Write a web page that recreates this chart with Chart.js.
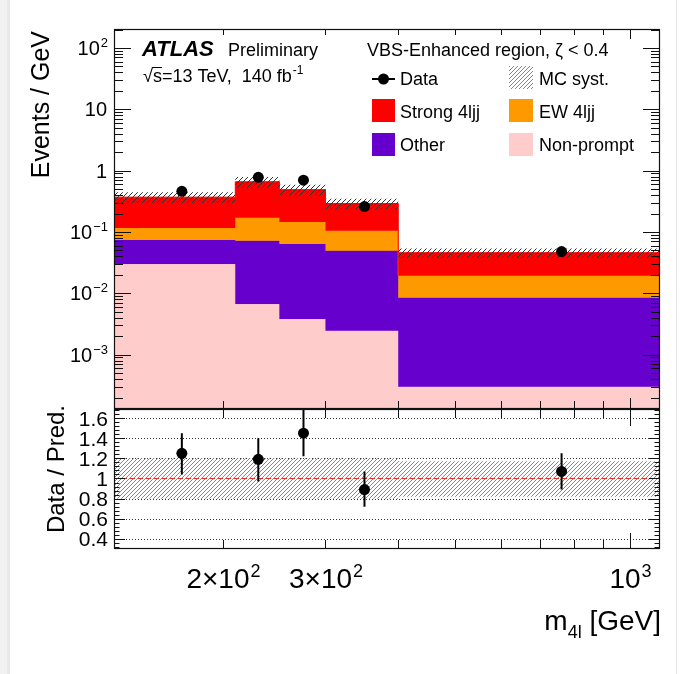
<!DOCTYPE html>
<html>
<head>
<meta charset="utf-8">
<title>VBS-Enhanced region - m4l</title>
<script src="https://cdn.jsdelivr.net/npm/chart.js@4.4.0/dist/chart.umd.min.js"></script>
<style>
body { margin: 0; background: #fff; }
.wrap { position: relative; width: 689px; height: 674px; overflow: hidden; }
.wrap canvas { position: absolute; left: 0; top: 0; }
.edgeL { position: absolute; left: 0; top: 0; width: 7px; height: 674px; background: #f2f2f2; border-right: 3px solid #e8e8e8; }
.edgeR { position: absolute; left: 676px; top: 0; width: 1px; height: 674px; background: #e4e4e4; }
</style>
</head>
<body>
<div class="wrap">
  <div class="edgeL"></div>
  <div class="edgeR"></div>
  <canvas id="main-chart" width="689" height="674"></canvas>
  <canvas id="ratio-chart" width="689" height="674"></canvas>
</div>
<script>
// bins in m4l [GeV]
const binEdges = [130, 210, 250, 300, 400, 1126];
const binCenters = [170, 230, 275, 350, 763];

// events / GeV per process
const nonPrompt = [0.030, 0.0067, 0.0038, 0.00245, 0.00030];
const other = [0.044, 0.065, 0.060, 0.047, 0.0082];
const ew4ljj = [0.042, 0.099, 0.082, 0.055, 0.0109];
const strong4ljj = [0.254, 0.489, 0.344, 0.186, 0.0266];
const dataVals = [0.46, 0.78, 0.70, 0.26, 0.048];

// ratio panel
const ratioVals = [1.25, 1.19, 1.45, 0.89, 1.07];
const ratioErrLo = [0.21, 0.22, 0.23, 0.17, 0.18];
const ratioErrHi = [0.20, 0.21, 0.23, 0.18, 0.18];
const systLo = [0.80, 0.80, 0.80, 0.80, 0.82];
const systHi = [1.20, 1.20, 1.20, 1.20, 1.17];

// axes
const yRange = [1.3e-4, 204];
const rRange = [0.3, 1.69];
const yTickValues = [1e-3, 1e-2, 1e-1, 1, 10, 100];
const yTickLabels = ['10^\u22123', '10^\u22122', '10^\u22121', '1', '10', '10^2'];
const xTickValues = [200, 300, 1000];
const xTickLabels = ['2\u00d710^2', '3\u00d710^2', '10^3'];
const rTickValues = [0.4, 0.6, 0.8, 1, 1.2, 1.4, 1.6];
const rTickLabels = ['0.4', '0.6', '0.8', '1', '1.2', '1.4', '1.6'];

const FONT = '"Liberation Sans", Arial, Helvetica, sans-serif';
const colors = { strong: '#ff0000', ew: '#ff9900', other: '#6600cc', np: '#ffcccc' };

function addUp(a, b) { return a.map((v, i) => v + b[i]); }
function steps(vals) { return binEdges.map((x, i) => ({ x: x, y: vals[Math.min(i, vals.length - 1)] })); }

function hatch(color, gap, lw) {
    var c = document.createElement('canvas');
    c.width = gap; c.height = gap;
    var g = c.getContext('2d');
    g.strokeStyle = color; g.lineWidth = lw;
    g.beginPath();
    g.moveTo(0, gap); g.lineTo(gap, 0);
    g.moveTo(-1, 1); g.lineTo(1, -1);
    g.moveTo(gap - 1, gap + 1); g.lineTo(gap + 1, gap - 1);
    g.stroke();
    return g.createPattern(c, 'repeat');
}

const topNP = nonPrompt;
const topOther = addUp(topNP, other);
const topEW = addUp(topOther, ew4ljj);
const topStrong = addUp(topEW, strong4ljj);

const hatchMain = hatch('#333', 5, 1);
const hatchRatio = hatch('#888', 4, 1);

// text with "a^b" superscript
function drawSup(ctx, text, x, y, size, align) {
    var parts = text.split('^');
    ctx.font = size + 'px ' + FONT;
    var wb = ctx.measureText(parts[0]).width;
    var we = 0, es = Math.round(size * 0.64);
    if (parts[1]) { ctx.font = es + 'px ' + FONT; we = ctx.measureText(parts[1]).width; }
    var w = wb + we;
    var x0 = align === 'right' ? x - w : (align === 'center' ? x - w / 2 : x);
    ctx.textAlign = 'left';
    ctx.font = size + 'px ' + FONT;
    ctx.fillText(parts[0], x0, y);
    if (parts[1]) {
        ctx.font = es + 'px ' + FONT;
        ctx.fillText(parts[1], x0 + wb + 1, y - size * 0.4);
    }
}

function line(ctx, x1, y1, x2, y2) {
    ctx.beginPath(); ctx.moveTo(x1, y1); ctx.lineTo(x2, y2); ctx.stroke();
}

function frame(ctx, a) {
    ctx.strokeStyle = '#111'; ctx.lineWidth = 1.2; ctx.setLineDash([]);
    ctx.strokeRect(a.left + 0.5, a.top + 0.5, a.right - a.left - 1, a.bottom - a.top - 1);
}

function xTicks(ctx, chart, botMinor, botMajor, topMinor, topMajor) {
    var a = chart.chartArea, sx = chart.scales.x;
    ctx.lineWidth = 1; ctx.strokeStyle = '#111';
    for (var v = 200; v <= 1000; v += 100) {
        var px = Math.round(sx.getPixelForValue(v)) + 0.5;
        var big = v === 1000;
        line(ctx, px, a.bottom, px, a.bottom - (big ? botMajor : botMinor));
        line(ctx, px, a.top, px, a.top + (big ? topMajor : topMinor));
    }
}

const mainDecor = {
    id: 'mainDecor',
    afterDraw(chart) {
        var ctx = chart.ctx, a = chart.chartArea, sy = chart.scales.y;
        ctx.save();
        ctx.fillStyle = '#000';
        // y ticks
        ctx.lineWidth = 1; ctx.strokeStyle = '#111';
        for (var d = -4; d <= 2; d++) {
            for (var k = 1; k <= 9; k++) {
                var v = k * Math.pow(10, d);
                if (v < yRange[0] || v > yRange[1]) continue;
                var py = Math.round(sy.getPixelForValue(v)) + 0.5;
                var len = k === 1 ? 17 : 9;
                line(ctx, a.left, py, a.left + len, py);
                line(ctx, a.right, py, a.right - len, py);
            }
        }
        xTicks(ctx, chart, 8, 11, 6, 10);
        frame(ctx, a);
        // y labels
        ctx.textBaseline = 'alphabetic';
        yTickValues.forEach((v, i) => {
            drawSup(ctx, yTickLabels[i], 107, sy.getPixelForValue(v) + 7, 20, 'right');
        });
        // y title
        ctx.save();
        ctx.translate(49, 31); ctx.rotate(-Math.PI / 2);
        ctx.font = '25px ' + FONT; ctx.textAlign = 'right';
        ctx.fillText('Events / GeV', 0, 0);
        ctx.restore();
        // ATLAS label
        ctx.textAlign = 'left';
        ctx.font = 'italic bold 22px ' + FONT;
        ctx.fillText('ATLAS', 142, 56);
        ctx.font = '18px ' + FONT;
        ctx.fillText('Preliminary', 228, 56);
        var x = 143;
        ctx.fillText('\u221a', x, 82);
        x += ctx.measureText('\u221a').width;
        var ws = ctx.measureText('s').width;
        ctx.fillText('s=13 TeV,  140 fb', x, 82);
        ctx.lineWidth = 1; ctx.strokeStyle = '#000';
        line(ctx, x - 1, 67.5, x + ws, 67.5);
        x += ctx.measureText('s=13 TeV,  140 fb').width;
        ctx.font = '12px ' + FONT;
        ctx.fillText('-1', x + 1, 74);
        ctx.font = '18px ' + FONT;
        ctx.fillText('VBS-Enhanced region, \u03b6 < 0.4', 367, 56);
        // legend
        ctx.lineWidth = 2; ctx.strokeStyle = '#000';
        line(ctx, 372, 79, 395, 79);
        ctx.beginPath(); ctx.arc(383.5, 79, 5.5, 0, 2 * Math.PI); ctx.fill();
        ctx.fillText('Data', 400, 85);
        ctx.fillStyle = hatch('#888', 4, 1);
        ctx.fillRect(509, 66, 24, 23);
        ctx.fillStyle = colors.strong; ctx.fillRect(372, 99, 23, 23);
        ctx.fillStyle = colors.ew; ctx.fillRect(509, 99, 24, 23);
        ctx.fillStyle = colors.other; ctx.fillRect(372, 133, 23, 23);
        ctx.fillStyle = colors.np; ctx.fillRect(509, 133, 24, 23);
        ctx.fillStyle = '#000';
        ctx.fillText('MC syst.', 539, 85);
        ctx.fillText('Strong 4ljj', 400, 118);
        ctx.fillText('EW 4ljj', 539, 118);
        ctx.fillText('Other', 400, 151);
        ctx.fillText('Non-prompt', 539, 151);
        ctx.restore();
    }
};

const ratioDecor = {
    id: 'ratioDecor',
    beforeDatasetsDraw(chart) {
        var ctx = chart.ctx, a = chart.chartArea, sy = chart.scales.y;
        ctx.save();
        ctx.strokeStyle = '#333'; ctx.lineWidth = 1; ctx.setLineDash([1, 2]);
        rTickValues.forEach(v => {
            if (v === 1) return;
            var py = Math.round(sy.getPixelForValue(v)) + 0.5;
            line(ctx, a.left, py, a.right, py);
        });
        ctx.restore();
    },
    afterDraw(chart) {
        var ctx = chart.ctx, a = chart.chartArea, sx = chart.scales.x, sy = chart.scales.y;
        ctx.save();
        ctx.fillStyle = '#000'; ctx.strokeStyle = '#111'; ctx.lineWidth = 1;
        for (var i = 0; i <= 35; i++) {
            var v = 0.32 + i * 0.04;
            if (v > rRange[1]) break;
            var big = Math.abs((v * 100) % 20) < 0.5 || Math.abs((v * 100) % 20 - 20) < 0.5;
            var py = Math.round(sy.getPixelForValue(v)) + 0.5;
            var len = big ? 11 : 5.5;
            line(ctx, a.left, py, a.left + len, py);
            line(ctx, a.right, py, a.right - len, py);
        }
        xTicks(ctx, chart, 9, 16, 9, 17);
        frame(ctx, a);
        rTickValues.forEach((v, i) => {
            drawSup(ctx, rTickLabels[i], 108, sy.getPixelForValue(v) + 7.5, 21, 'right');
        });
        xTickValues.forEach((v, i) => {
            drawSup(ctx, xTickLabels[i], sx.getPixelForValue(v), 588, 28, 'center');
        });
        // y title
        ctx.save();
        ctx.translate(64, 405); ctx.rotate(-Math.PI / 2);
        ctx.font = '24px ' + FONT; ctx.textAlign = 'right';
        ctx.fillText('Data / Pred.', 0, 0);
        ctx.restore();
        // x title m_4l [GeV]
        ctx.textAlign = 'left';
        ctx.font = '28px ' + FONT;
        var wm = ctx.measureText('m').width, wg = ctx.measureText(' [GeV]').width;
        ctx.font = '18px ' + FONT;
        var w4 = ctx.measureText('4l').width;
        var x0 = 661 - wm - w4 - wg;
        ctx.font = '28px ' + FONT;
        ctx.fillText('m', x0, 630);
        ctx.fillText(' [GeV]', x0 + wm + w4, 630);
        ctx.font = '18px ' + FONT;
        ctx.fillText('4l', x0 + wm, 638);
        ctx.restore();
    }
};

const noBox = 'rgba(0,0,0,0)';

new Chart(document.getElementById('main-chart'), {
    type: 'line',
    data: {
        datasets: [
            { label: 'Data', data: binCenters.map((x, i) => ({ x: x, y: dataVals[i] })), showLine: false,
              pointRadius: 5.5, pointBackgroundColor: '#000', pointBorderWidth: 0 },
            { label: 'MC syst.', data: steps(topStrong.map((v, i) => v * systHi[i])), stepped: 'before',
              borderColor: noBox, borderWidth: 0, pointRadius: 0, fill: 2, backgroundColor: hatchMain },
            { label: 'syst lo', data: steps(topStrong.map((v, i) => v * systLo[i])), stepped: 'before',
              borderColor: noBox, borderWidth: 0, pointRadius: 0, fill: false },
            { label: 'Strong 4ljj', data: steps(topStrong), stepped: 'before', pointRadius: 0,
              borderColor: colors.strong, borderWidth: 1, fill: 4, backgroundColor: colors.strong },
            { label: 'EW 4ljj', data: steps(topEW), stepped: 'before', pointRadius: 0,
              borderColor: colors.ew, borderWidth: 1, fill: 5, backgroundColor: colors.ew },
            { label: 'Other', data: steps(topOther), stepped: 'before', pointRadius: 0,
              borderColor: colors.other, borderWidth: 1, fill: 6, backgroundColor: colors.other },
            { label: 'Non-prompt', data: steps(topNP), stepped: 'before', pointRadius: 0,
              borderColor: '#f4b8d8', borderWidth: 1, fill: 'start', backgroundColor: colors.np }
        ]
    },
    options: {
        responsive: false, animation: false, events: [],
        layout: { padding: { left: 114, right: 29, top: 29, bottom: 265 } },
        scales: {
            x: { type: 'logarithmic', min: binEdges[0], max: binEdges[binEdges.length - 1], display: false },
            y: { type: 'logarithmic', min: yRange[0], max: yRange[1], display: false }
        },
        plugins: { legend: { display: false }, tooltip: { enabled: false } }
    },
    plugins: [mainDecor]
});

var errBars = [];
binCenters.forEach((x, i) => {
    errBars.push({ x: x, y: ratioVals[i] - ratioErrLo[i] }, { x: x, y: ratioVals[i] + ratioErrHi[i] }, { x: x, y: null });
});

new Chart(document.getElementById('ratio-chart'), {
    type: 'line',
    data: {
        datasets: [
            { label: 'ratio', data: binCenters.map((x, i) => ({ x: x, y: ratioVals[i] })), showLine: false,
              pointRadius: 5.5, pointBackgroundColor: '#000', pointBorderWidth: 0 },
            { label: 'err', data: errBars, borderColor: '#000', borderWidth: 2, pointRadius: 0, spanGaps: false, fill: false },
            { label: 'unity', data: [{ x: binEdges[0], y: 1 }, { x: binEdges[binEdges.length - 1], y: 1 }],
              borderColor: '#e0302a', borderWidth: 1.2, borderDash: [5, 3], pointRadius: 0, fill: false },
            { label: 'syst hi', data: steps(systHi), stepped: 'before', borderColor: noBox, borderWidth: 0,
              pointRadius: 0, fill: 4, backgroundColor: hatchRatio },
            { label: 'syst lo', data: steps(systLo), stepped: 'before', borderColor: noBox, borderWidth: 0,
              pointRadius: 0, fill: false }
        ]
    },
    options: {
        responsive: false, animation: false, events: [],
        layout: { padding: { left: 114, right: 29, top: 409, bottom: 125 } },
        scales: {
            x: { type: 'logarithmic', min: binEdges[0], max: binEdges[binEdges.length - 1], display: false },
            y: { type: 'linear', min: rRange[0], max: rRange[1], display: false }
        },
        plugins: { legend: { display: false }, tooltip: { enabled: false } }
    },
    plugins: [ratioDecor]
});
</script>
</body>
</html>
